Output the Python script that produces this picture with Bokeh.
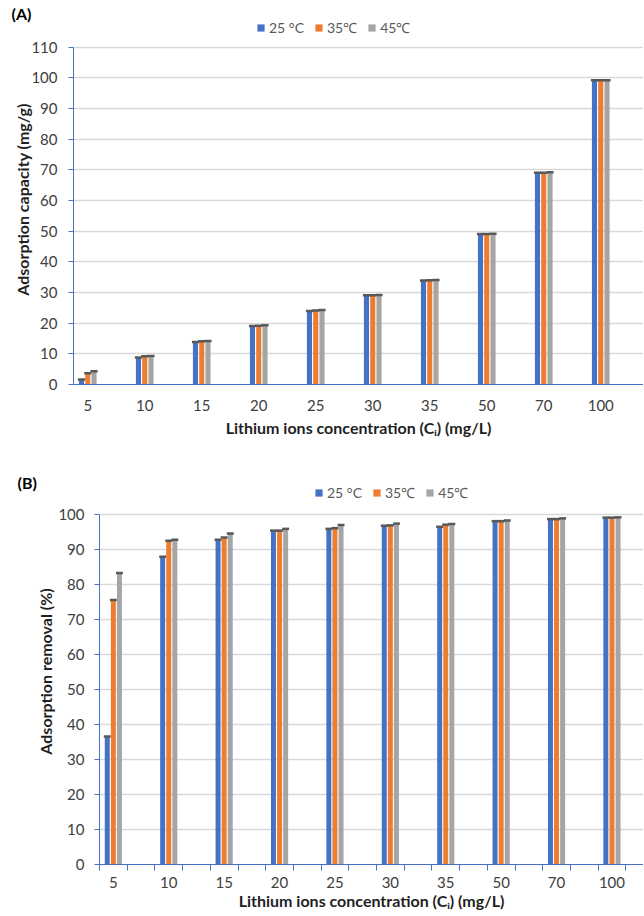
from bokeh.plotting import figure
from bokeh.models import (FixedTicker, Legend, LegendItem, Title, Range1d,
                          ColumnDataSource, Spacer)
from bokeh.transform import dodge
from bokeh.layouts import column, row
from bokeh.embed import file_html
from bokeh.resources import INLINE

# ---- data ----
concentrations = ["5", "10", "15", "20", "25", "30", "35", "50", "70", "100"]
series_labels = ["25 °C", "35℃", "45℃"]
colors = ["#4472C4", "#ED7D31", "#A5A5A5"]

capacity_25 = [1.6, 8.8, 13.9, 19.1, 24.0, 29.1, 33.9, 49.1, 69.1, 99.2]
capacity_35 = [3.7, 9.2, 14.1, 19.2, 24.1, 29.1, 34.0, 49.1, 69.1, 99.2]
capacity_45 = [4.3, 9.3, 14.2, 19.3, 24.3, 29.2, 34.1, 49.2, 69.2, 99.2]

removal_25 = [36.6, 87.9, 92.8, 95.4, 95.9, 96.8, 96.5, 98.1, 98.7, 99.1]
removal_35 = [75.6, 92.5, 93.4, 95.4, 96.1, 96.9, 97.1, 98.1, 98.7, 99.1]
removal_45 = [83.3, 92.8, 94.6, 95.9, 97.0, 97.4, 97.3, 98.3, 98.9, 99.2]

y_ticks_a = list(range(0, 111, 10))
y_ticks_b = list(range(0, 101, 10))

FONT = "Lato"
BLUE_AXIS = "#4472C4"
GRID = "#D9D9D9"
TICK_TXT = "#404040"
TITLE_TXT = "#1F1F1F"

# category slots: each concentration occupies every second slot
positions = [2 * i + 0.5 for i in range(len(concentrations))]
boundaries = list(range(0, 20))
offsets = [-0.22, 0.0, 0.22]


def make_panel(values, ymax, yend, yticks, ylabel, tag, frame_w, frame_h, xend,
               b_left, b_top, b_bottom, show_xticks, legend_x, legend_y,
               tag_offset, tag_standoff, ytitle_standoff, ylabel_standoff,
               xtitle_standoff):
    src = ColumnDataSource(dict(pos=positions, s0=values[0], s1=values[1], s2=values[2]))
    p = figure(frame_width=frame_w, frame_height=frame_h,
               x_range=Range1d(0, xend), y_range=Range1d(0, yend),
               output_backend="svg", toolbar_location=None,
               min_border_left=b_left, min_border_right=0,
               min_border_top=b_top, min_border_bottom=b_bottom)
    p.outline_line_color = None
    p.background_fill_color = "white"
    p.border_fill_color = "white"

    renderers = []
    for k, (off, col) in enumerate(zip(offsets, colors)):
        r = p.vbar(x=dodge("pos", off), top="s%d" % k, width=0.18, bottom=0,
                   source=src, fill_color=col, line_color=None)
        renderers.append(r)
    for k, off in enumerate(offsets):
        p.rect(x=dodge("pos", off), y="s%d" % k, width=0.25, height=2.5,
               height_units="screen", source=src,
               fill_color="#595959", line_color=None)

    p.xgrid.grid_line_color = None
    p.ygrid.grid_line_color = GRID
    p.ygrid.grid_line_width = 1.5

    p.yaxis.ticker = FixedTicker(ticks=yticks)
    p.yaxis.bounds = (0, ymax)
    p.yaxis.axis_line_color = BLUE_AXIS
    p.yaxis.major_tick_line_color = BLUE_AXIS
    p.yaxis.major_tick_out = 5
    p.yaxis.major_tick_in = 0
    p.yaxis.minor_tick_line_color = None
    p.yaxis.major_label_text_font = FONT
    p.yaxis.major_label_text_font_size = "15px"
    p.yaxis.major_label_text_color = TICK_TXT
    p.yaxis.major_label_standoff = ylabel_standoff
    p.yaxis.axis_label = ylabel
    p.yaxis.axis_label_text_font = FONT
    p.yaxis.axis_label_text_font_size = "16px"
    p.yaxis.axis_label_text_font_style = "bold"
    p.yaxis.axis_label_text_color = TITLE_TXT
    p.yaxis.axis_label_standoff = ytitle_standoff

    p.xaxis.ticker = FixedTicker(ticks=positions, minor_ticks=boundaries)
    p.xaxis.major_label_overrides = {pos: lab for pos, lab in zip(positions, concentrations)}
    p.xaxis.axis_line_color = BLUE_AXIS
    p.xaxis.major_tick_line_color = None
    p.xaxis.major_tick_out = 0
    p.xaxis.major_tick_in = 0
    if show_xticks:
        p.xaxis.minor_tick_line_color = BLUE_AXIS
        p.xaxis.minor_tick_out = 6
        p.xaxis.minor_tick_in = 0
        p.xaxis.major_label_standoff = 6
    else:
        p.xaxis.minor_tick_line_color = None
        p.xaxis.major_label_standoff = 11
    p.xaxis.major_label_text_font = FONT
    p.xaxis.major_label_text_font_size = "15px"
    p.xaxis.major_label_text_color = TICK_TXT
    p.xaxis.axis_label = "Lithium ions concentration (Cᵢ) (mg/L)"
    p.xaxis.axis_label_text_font = FONT
    p.xaxis.axis_label_text_font_size = "16px"
    p.xaxis.axis_label_text_font_style = "bold"
    p.xaxis.axis_label_text_color = TITLE_TXT
    p.xaxis.axis_label_standoff = xtitle_standoff

    legend = Legend(items=[LegendItem(label=lab, renderers=[r])
                           for lab, r in zip(series_labels, renderers)],
                    location=(legend_x, legend_y), orientation="horizontal",
                    border_line_color=None, background_fill_alpha=0,
                    padding=0, margin=0, spacing=10,
                    glyph_width=9, glyph_height=9, label_standoff=4,
                    label_height=14, label_text_font=FONT,
                    label_text_font_size="14px", label_text_color="#595959")
    p.add_layout(legend)
    p.add_layout(Title(text=tag, align="left", offset=tag_offset,
                       standoff=tag_standoff, text_font=FONT,
                       text_font_size="16px", text_font_style="bold",
                       text_color="black"), "above")
    return p


pA = make_panel([capacity_25, capacity_35, capacity_45], 110, 120.68, y_ticks_a,
                "Adsorption capacity (mg/g)", "(A)",
                frame_w=570, frame_h=370, xend=20,
                b_left=73, b_top=14, b_bottom=65, show_xticks=False,
                legend_x=183, legend_y=347, tag_offset=-62, tag_standoff=-17,
                ytitle_standoff=-4, ylabel_standoff=11, xtitle_standoff=4)

pB = make_panel([removal_25, removal_35, removal_45], 100, 110.29, y_ticks_b,
                "Adsorption removal (%)", "(B)",
                frame_w=544, frame_h=386, xend=544 / 27.7,
                b_left=98, b_top=29, b_bottom=45, show_xticks=True,
                legend_x=215, legend_y=362, tag_offset=-82, tag_standoff=-27,
                ytitle_standoff=0, ylabel_standoff=10, xtitle_standoff=0)

layout = column(pA, row(Spacer(width=1), pB), spacing=0)
open("out.html", "w").write(file_html(layout, INLINE))
